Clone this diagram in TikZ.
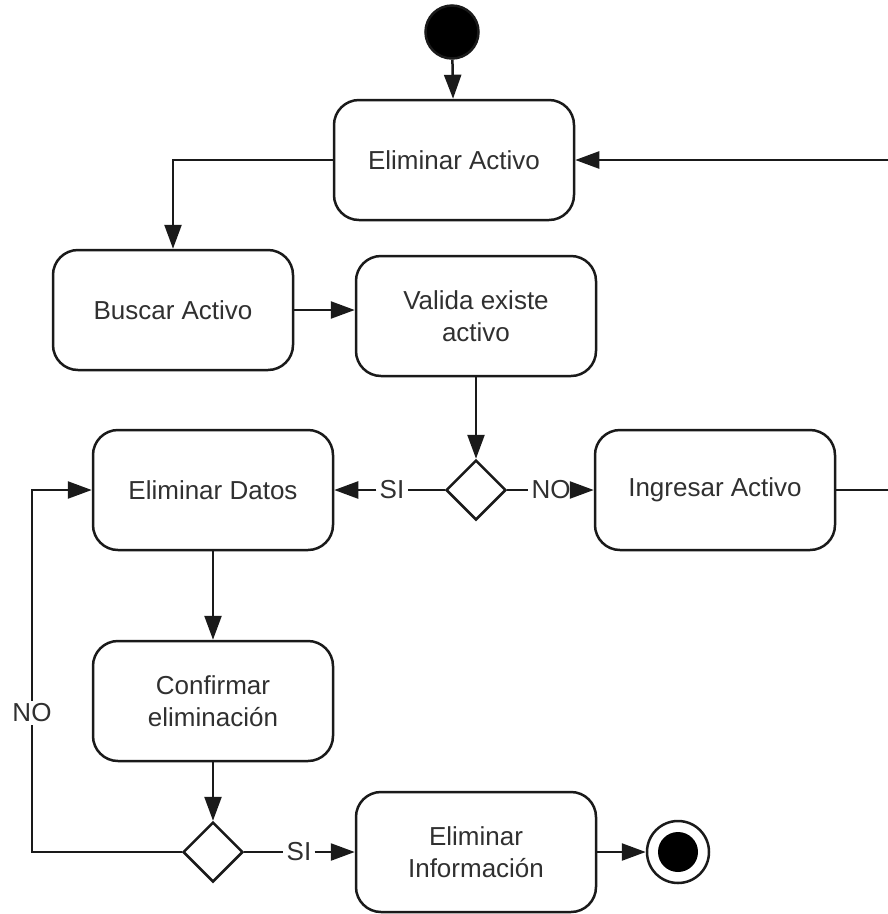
\documentclass[tikz,border=0pt]{standalone}
\usepackage{fontspec}
\setmainfont{Liberation Sans}
\usetikzlibrary{arrows.meta,shapes.geometric}
\definecolor{ink}{HTML}{1A1A1A}
\definecolor{txt}{HTML}{303030}
\begin{document}
\begin{tikzpicture}[x=1pt,y=-1pt,
  line width=2.5pt,
  every node/.style={text=txt,font=\fontsize{26}{32}\selectfont},
  activity/.style={draw=ink,rectangle,rounded corners=25pt,minimum width=240pt,minimum height=120pt,align=center,inner sep=0pt},
  choice/.style={draw=ink,diamond,minimum width=60pt,minimum height=60pt,inner sep=0pt},
  flow/.style={draw=ink,-{Triangle[length=24pt,width=17pt]}},
  link/.style={draw=ink},
  guard/.style={fill=white,inner sep=2pt}]
\useasboundingbox (0,0) rectangle (888,914);

% initial and final states
\node[circle,fill=black,draw=ink,minimum size=53pt,inner sep=0pt] (start) at (452,32) {};
\node[circle,draw=ink,minimum size=62pt,inner sep=0pt] (stop) at (678,852) {};
\node[circle,fill=black,minimum size=40pt,inner sep=0pt] (stopdot) at (678,852) {};

% activities
\node[activity] (elim)   at (454,160) {Eliminar Activo};
\node[activity] (buscar) at (173,310) {Buscar Activo};
\node[activity] (valida) at (476,316) {Valida existe\\activo};
\node[activity] (datos)  at (213,490) {Eliminar Datos};
\node[activity] (ingr)   at (715,490) {Ingresar Activo};
\node[activity] (conf)   at (213,701) {Confirmar\\eliminación};
\node[activity] (info)   at (476,852) {Eliminar\\Información};

% decisions
\node[choice] (d1) at (476,490) {};
\node[choice] (d2) at (213,852) {};

% helper points for routed connectors (the return loop runs past the right edge)
\coordinate (r1) at (905,490);
\coordinate (r2) at (905,160);
\coordinate (l1) at (173,160);
\coordinate (b1) at (32,852);
\coordinate (b2) at (32,490);

% guard labels
\node[guard] (si1) at (392,490) {SI};
\node[guard] (no1) at (551,490) {NO};
\node[guard] (si2) at (299,852) {SI};
\node[guard] (no2) at (32,713) {NO};

% flows
\draw[flow] (start) -- (elim);
\draw[flow] (elim.west) -- (l1) -- (buscar.north);
\draw[flow] (buscar) -- (valida.west |- buscar);
\draw[flow] (valida) -- (d1);
\draw[link] (d1) -- (si1);
\draw[flow] (si1) -- (datos);
\draw[link] (d1) -- (no1);
\draw[flow] (no1) -- (ingr);
\draw[flow] (ingr.east) -- (r1) -- (r2) -- (elim.east);
\draw[flow] (datos) -- (conf);
\draw[flow] (conf) -- (d2);
\draw[link] (d2) -- (si2);
\draw[flow] (si2) -- (info);
\draw[flow] (info) -- (stop);
\draw[link] (d2.west) -- (b1) -- (no2);
\draw[flow] (no2) -- (b2) -- (datos.west);
\end{tikzpicture}
\end{document}
